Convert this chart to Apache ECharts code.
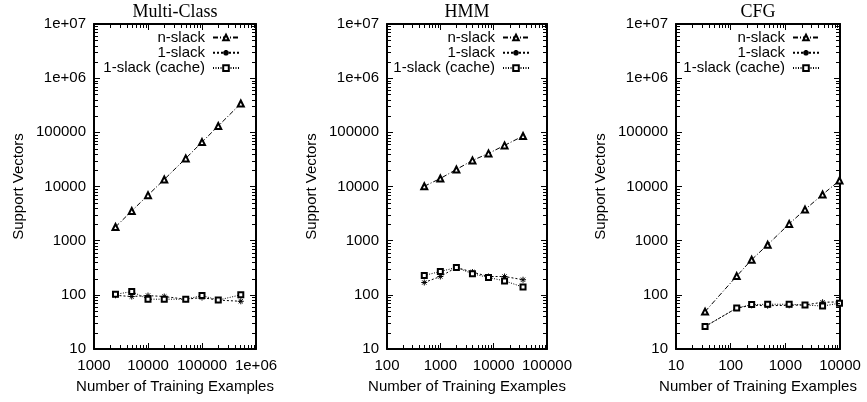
<!DOCTYPE html>
<html><head><meta charset="utf-8">
<script src="https://cdn.jsdelivr.net/npm/echarts@6/dist/echarts.min.js"></script>
<style>html,body{margin:0;padding:0;background:#fff}#c{width:867px;height:402px}</style>
</head><body><div id="c"></div>
<script>
// ---- data ----
const panelTitles = ['Multi-Class', 'HMM', 'CFG'];
const seriesNames = ['n-slack', '1-slack', '1-slack (cache)'];

const multiX = [2500, 5000, 10000, 20000, 50000, 100000, 200000, 522911];
const multiNSlack = [1790, 3540, 6920, 13500, 33000, 66000, 131000, 340000];
const multiOneSlack = [98, 93, 97, 93, 83, 89, 80, 76];
const multiCache = [102, 115, 83, 83, 83, 97, 80, 100];

const hmmX = [500, 1000, 2000, 4000, 8000, 16000, 35531];
const hmmNSlack = [10100, 14060, 20650, 30300, 40800, 57400, 85500];
const hmmOneSlack = [169, 218, 320, 263, 218, 218, 190];
const hmmCache = [228, 270, 320, 245, 209, 181, 139];

const cfgX = [34, 129, 242, 475, 1175, 2290, 4800, 9780];
const cfgNSlack = [49, 222, 445, 843, 2040, 3750, 7110, 12900];
const cfgOneSlack = [26, 57, 64, 63, 64, 65, 73, 74];
const cfgCache = [26, 57, 66, 67, 67, 65, 62, 70];

const yTickLabels = ['10', '100', '1000', '10000', '100000', '1e+06', '1e+07'];
const multiXTickLabels = ['1000', '10000', '100000', '1e+06'];
const hmmXTickLabels = ['100', '1000', '10000', '100000'];
const cfgXTickLabels = ['10', '100', '1000', '10000'];

const yRange = [10, 1e7];
const multiXRange = [1000, 1e6];
const hmmXRange = [100, 1e5];
const cfgXRange = [10, 1e4];

// ---- layout / style ----
const FONT = 'Liberation Sans, Arial, Helvetica, sans-serif';
const FS = 15;
const panels = [
  { x: multiX, ys: [multiNSlack, multiOneSlack, multiCache], xr: multiXRange, xl: multiXTickLabels, left: 94, width: 162, legRight: 627 },
  { x: hmmX, ys: [hmmNSlack, hmmOneSlack, hmmCache], xr: hmmXRange, xl: hmmXTickLabels, left: 387, width: 160, legRight: 337 },
  { x: cfgX, ys: [cfgNSlack, cfgOneSlack, cfgCache], xr: cfgXRange, xl: cfgXTickLabels, left: 676, width: 164, legRight: 47 }
];
const TOP = 24, BOTTOM = 53;
const symbols = ['emptyTriangle', 'path://M0,5L10,5M5,0L5,10M1.5,1.5L8.5,8.5M8.5,1.5L1.5,8.5', 'emptyRect'];
const symbolSizes = [6, 6, 5];
const dashes = [[5, 2, 1, 2], [2, 2], [1, 1.5]];

// minor tick values (2..9 per decade) between two powers of ten
function minorValues(lo, hi) {
  const out = [];
  for (let d = lo; d < hi; d *= 10) for (let k = 2; k <= 9; k++) out.push(d * k);
  return out;
}

const grids = [], xAxes = [], yAxes = [], series = [], titles = [], legends = [];
const black = '#000';
const lbl = { color: black, fontSize: FS, fontFamily: FONT };

panels.forEach((p, pi) => {
  grids.push({ left: p.left, width: p.width, top: TOP, bottom: BOTTOM, containLabel: false, show: false });
  const xLog0 = Math.round(Math.log10(p.xr[0]));
  const common = {
    type: 'log', logBase: 10, gridIndex: pi, min: p.xr[0], max: p.xr[1],
    axisLine: { show: true, onZero: false, lineStyle: { color: black, width: 2 } },
    axisTick: { show: true, inside: true, length: 6, lineStyle: { color: black, width: 1 } },
    minorTick: { show: false },
    splitLine: { show: false }, minorSplitLine: { show: false }
  };
  xAxes.push(Object.assign({}, common, {
    position: 'bottom',
    axisLabel: Object.assign({ margin: 9, showMinLabel: true, showMaxLabel: true,
      formatter: v => p.xl[Math.round(Math.log10(v)) - xLog0] }, lbl),
    name: 'Number of Training Examples', nameLocation: 'middle', nameGap: 30,
    nameTextStyle: lbl
  }));
  xAxes.push(Object.assign({}, common, { position: 'top', axisLabel: { show: false } }));
  const ycommon = Object.assign({}, common, { gridIndex: pi, min: yRange[0], max: yRange[1] });
  yAxes.push(Object.assign({}, ycommon, {
    position: 'left',
    axisLabel: Object.assign({ margin: 8, showMinLabel: true, showMaxLabel: true,
      formatter: v => yTickLabels[Math.round(Math.log10(v)) - 1] }, lbl),
    name: 'Support Vectors', nameLocation: 'middle', nameGap: 68, nameRotate: 90,
    nameTextStyle: lbl
  }));
  yAxes.push(Object.assign({}, ycommon, { position: 'right', axisLabel: { show: false } }));

  titles.push({
    text: panelTitles[pi], left: p.left + p.width / 2, top: 3, textAlign: 'center', padding: 0,
    textStyle: { fontFamily: 'Liberation Serif, Times New Roman, serif', fontSize: 18, fontWeight: 'normal', color: black }
  });

  seriesNames.forEach((name, si) => {
    series.push({
      type: 'line', name, xAxisIndex: pi * 2, yAxisIndex: pi * 2,
      data: p.x.map((xv, i) => [xv, p.ys[si][i]]),
      symbol: symbols[si], symbolSize: symbolSizes[si], showAllSymbol: true,
      lineStyle: { color: black, width: 1, type: dashes[si] },
      itemStyle: { color: black, borderColor: black, borderWidth: 1 },
      emphasis: { disabled: true }, animation: false, z: 3
    });
    legends.push({
      data: [name], orient: 'vertical', align: 'right', right: p.legRight, top: 30 + 15.3 * si,
      itemWidth: 26, itemHeight: 7, padding: 0, itemGap: 0, selectedMode: false,
      textStyle: { color: black, fontSize: FS, fontFamily: FONT, lineHeight: 15, padding: [0, 3, 0, 0] }
    });
  });

  // minor ticks on all four sides (log spaced), drawn through the axes' scales
  const xm = minorValues(p.xr[0], p.xr[1]);
  const ym = minorValues(yRange[0], yRange[1]);
  series.push({
    type: 'custom', xAxisIndex: pi * 2, yAxisIndex: pi * 2,
    data: [[p.xr[0], yRange[0]]], clip: false, z: 5, silent: true,
    renderItem: (params, api) => {
      const children = [];
      const ll = api.coord([p.xr[0], yRange[0]]);
      const ur = api.coord([p.xr[1], yRange[1]]);
      const L = 4;
      const st = { stroke: black, lineWidth: 1 };
      xm.forEach(v => {
        const cx = Math.round(api.coord([v, yRange[0]])[0]) + 0.5;
        children.push({ type: 'line', shape: { x1: cx, y1: ll[1], x2: cx, y2: ll[1] - L }, style: st });
        children.push({ type: 'line', shape: { x1: cx, y1: ur[1], x2: cx, y2: ur[1] + L }, style: st });
      });
      ym.forEach(v => {
        const cy = Math.round(api.coord([p.xr[0], v])[1]) + 0.5;
        children.push({ type: 'line', shape: { x1: ll[0], y1: cy, x2: ll[0] + L, y2: cy }, style: st });
        children.push({ type: 'line', shape: { x1: ur[0], y1: cy, x2: ur[0] - L, y2: cy }, style: st });
      });
      return { type: 'group', children };
    }
  });
});

const chart = echarts.init(document.getElementById('c'), null, { renderer: 'canvas' });
chart.setOption({
  backgroundColor: '#fff', animation: false,
  title: titles, grid: grids, xAxis: xAxes, yAxis: yAxes, legend: legends, series
});
</script></body></html>
